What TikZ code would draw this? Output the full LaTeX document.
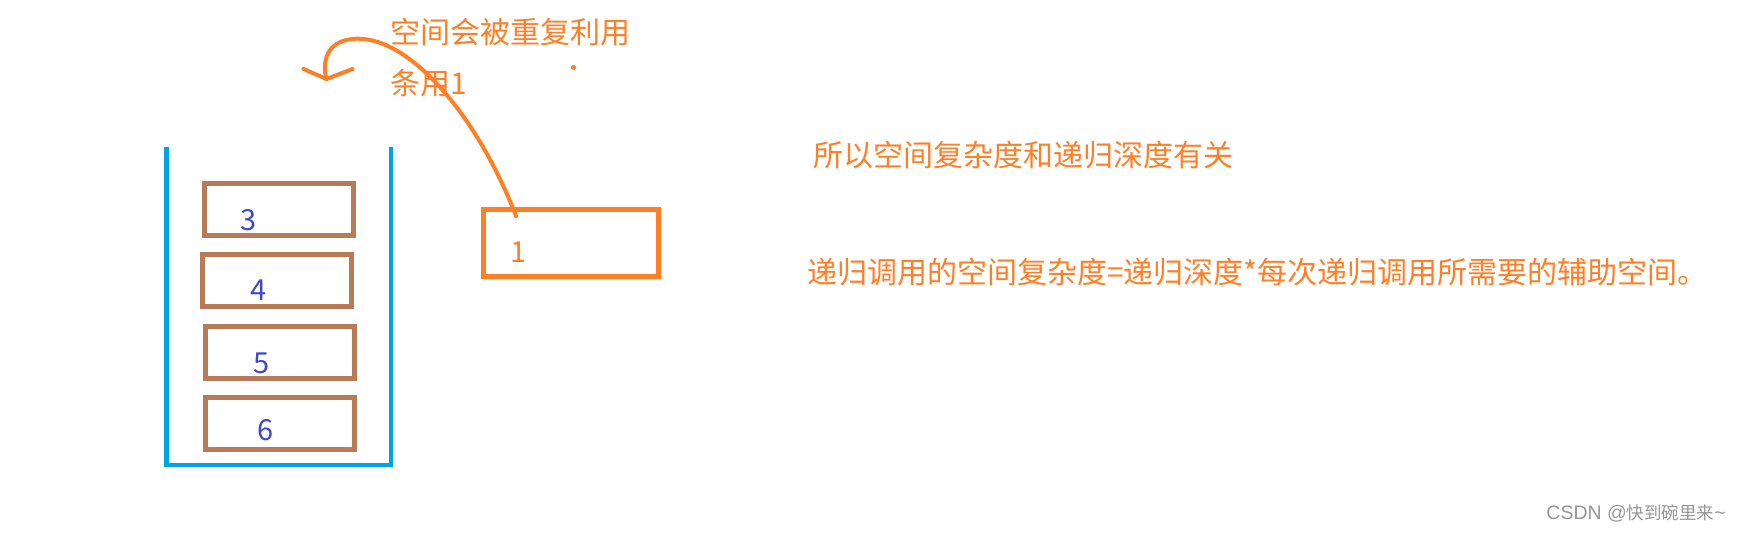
\documentclass[tikz,border=0pt]{standalone}
\usepackage{fontspec}
\setmainfont{Noto Sans CJK SC}
\newfontfamily\cjk{Noto Sans CJK SC}
\newfontfamily\latinsans{Liberation Sans}
\definecolor{porange}{RGB}{255,127,39}
\definecolor{pbrown}{RGB}{185,122,87}
\definecolor{pblue}{RGB}{0,162,232}
\definecolor{pindigo}{RGB}{63,72,204}
\definecolor{wmgray}{RGB}{150,150,150}
\begin{document}
\begin{tikzpicture}[x=1pt,y=-1pt,
  framebox/.style={draw=pbrown,line width=4.7pt},
  numlabel/.style={text=pindigo,font=\cjk\fontsize{29}{31}\selectfont,inner sep=0pt},
  note/.style={text=porange,font=\cjk\fontsize{30}{34}\selectfont,inner sep=0pt,anchor=west},
  orangebox/.style={draw=porange,line width=4.7pt}]
\useasboundingbox (0,0) rectangle (1740,533);
% container
\draw[pblue,line width=4.7pt] (166.5,147) -- (166.5,465) -- (391,465) -- (391,147);
% stack frames
\draw[framebox] (204.5,183.3) rectangle (353.5,235.5);
\draw[framebox] (202.3,254.3) rectangle (351.3,306.3);
\draw[framebox] (205.3,326.3) rectangle (354.7,378.3);
\draw[framebox] (205.3,397.3) rectangle (354.7,449.3);
\node[numlabel] (n3) at (249,220) {3};
\node[numlabel] (n4) at (258.5,290) {4};
\node[numlabel] (n5) at (262,363) {5};
\node[numlabel] (n6) at (266,430) {6};
% orange box
\draw[orangebox] (483.3,209.7) rectangle (658.3,276.7);
\node[text=porange,font=\cjk\fontsize{29}{31}\selectfont,inner sep=0pt] (n1) at (519,252) {1};
% curved arrow
\coordinate (cstart) at (516,216);
\coordinate (ctip) at (326.5,79);
\draw[porange,line width=4pt,line cap=round] (cstart) .. controls (475,110) and (405,33) .. (352,39) .. controls (326,42) and (322,62) .. (ctip);
\draw[porange,line width=4pt,line cap=round,line join=round] (303.5,69) -- (ctip) -- (352.5,69);
\fill[porange] (573.5,67.5) circle (2.6);
% texts
\node[note] (t1) at (390,32) {空间会被重复利用};
\node[note] (t2) at (390,83) {条用1};
\node[note] (t3) at (813,155) {所以空间复杂度和递归深度有关};
\node[note] (t4) at (807,272) {递归调用的空间复杂度=递归深度*每次递归调用所需要的辅助空间。};
\node[text=wmgray,inner sep=0pt,anchor=east] (wm) at (1726,513) {{\latinsans\fontsize{19.5}{21}\selectfont CSDN @}{\cjk\fontsize{17.5}{19}\selectfont 快到碗里来}{\latinsans\fontsize{19.5}{21}\selectfont\textasciitilde}};
\end{tikzpicture}
\end{document}
